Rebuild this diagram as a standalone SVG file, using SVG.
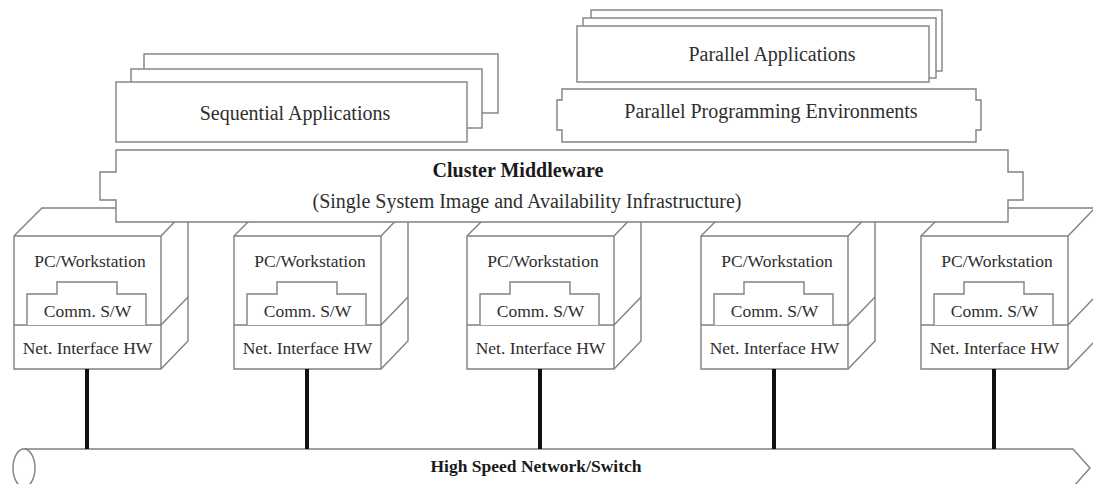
<svg xmlns="http://www.w3.org/2000/svg" xmlns:xlink="http://www.w3.org/1999/xlink" width="1093" height="484" viewBox="0 0 1093 484">
  <style>
    .box { fill: #ffffff; stroke: #808080; stroke-width: 1.4; stroke-linejoin: miter; }
    .line { fill: none; stroke: #808080; stroke-width: 1.4; }
    .lbl { font-family: "Liberation Serif", "Times New Roman", serif; fill: #2e2e2e; text-anchor: middle; }
    .big { font-size: 20px; }
    .small { font-size: 17.5px; }
    .bold { font-weight: bold; fill: #1a1a1a; }
    .wire { stroke: #111111; stroke-width: 4; fill: none; }
  </style>
  <defs>
    <!-- 3D workstation box, origin at top-left of the front face -->
    <g id="nodeShape">
      <path class="box" d="M0,0 L28,-28 L174,-28 L174,105 L147,133 L0,133 Z"/>
      <path class="line" d="M0,0 L147,0 L174,-28 M147,0 L147,133 M0,89 L147,89 L174,61"/>
      <path class="box" d="M13,89 L13,58 L43,58 L43,46 L103,46 L103,58 L132,58 L132,89"/>
    </g>
  </defs>

  <rect width="1093" height="484" fill="#ffffff"/>

  <!-- application layers -->
  <g id="sequential-apps">
    <rect class="box" x="144" y="54" width="354" height="59"/>
    <rect class="box" x="131" y="69" width="351" height="59"/>
    <rect class="box" x="116" y="82" width="351" height="60"/>
    <text class="lbl big" x="295" y="120">Sequential Applications</text>
  </g>

  <g id="parallel-apps">
    <rect class="box" x="591" y="10" width="351" height="61"/>
    <rect class="box" x="583" y="18" width="353" height="60"/>
    <rect class="box" x="577" y="26" width="352" height="56"/>
    <text class="lbl big" x="772" y="61">Parallel Applications</text>
  </g>

  <g id="parallel-env">
    <path class="box" d="M562,89 L976,89 L976,100 L981,100 L981,130 L976,130 L976,142 L562,142 L562,130 L557,130 L557,100 L562,100 Z"/>
    <text class="lbl big" x="771" y="118">Parallel Programming Environments</text>
  </g>

  <!-- cluster nodes -->
  <g id="node1" transform="translate(14,236)">
    <use xlink:href="#nodeShape"/>
    <text class="lbl small" x="76" y="31">PC/Workstation</text>
    <text class="lbl small" x="73.5" y="81">Comm. S/W</text>
    <text class="lbl small" x="73.5" y="118">Net. Interface HW</text>
  </g>
  <g id="node2" transform="translate(234,236)">
    <use xlink:href="#nodeShape"/>
    <text class="lbl small" x="76" y="31">PC/Workstation</text>
    <text class="lbl small" x="73.5" y="81">Comm. S/W</text>
    <text class="lbl small" x="73.5" y="118">Net. Interface HW</text>
  </g>
  <g id="node3" transform="translate(467,236)">
    <use xlink:href="#nodeShape"/>
    <text class="lbl small" x="76" y="31">PC/Workstation</text>
    <text class="lbl small" x="73.5" y="81">Comm. S/W</text>
    <text class="lbl small" x="73.5" y="118">Net. Interface HW</text>
  </g>
  <g id="node4" transform="translate(701,236)">
    <use xlink:href="#nodeShape"/>
    <text class="lbl small" x="76" y="31">PC/Workstation</text>
    <text class="lbl small" x="73.5" y="81">Comm. S/W</text>
    <text class="lbl small" x="73.5" y="118">Net. Interface HW</text>
  </g>
  <g id="node5" transform="translate(921,236)">
    <use xlink:href="#nodeShape"/>
    <text class="lbl small" x="76" y="31">PC/Workstation</text>
    <text class="lbl small" x="73.5" y="81">Comm. S/W</text>
    <text class="lbl small" x="73.5" y="118">Net. Interface HW</text>
  </g>

  <!-- middleware layer sits in front of the node tops -->
  <g id="middleware">
    <path class="box" d="M116,150 L1008,150 L1008,172 L1023,172 L1023,200 L1008,200 L1008,222 L116,222 L116,200 L100,200 L100,172 L116,172 Z"/>
    <text class="lbl big bold" x="518" y="177">Cluster Middleware</text>
    <text class="lbl big" x="527" y="208">(Single System Image and Availability Infrastructure)</text>
  </g>

  <!-- network bus -->
  <g id="network">
    <path class="box" d="M24,449 L1073,449 L1090,468 L1073,487 L24,487 Z"/>
    <ellipse class="box" cx="24" cy="468" rx="11" ry="19"/>
    <text class="lbl small bold" x="536" y="472">High Speed Network/Switch</text>
  </g>

  <!-- links from each node to the network -->
  <g id="connectors">
    <line class="wire" x1="87" y1="369" x2="87" y2="449"/>
    <line class="wire" x1="307" y1="369" x2="307" y2="449"/>
    <line class="wire" x1="540" y1="369" x2="540" y2="449"/>
    <line class="wire" x1="774" y1="369" x2="774" y2="449"/>
    <line class="wire" x1="994" y1="369" x2="994" y2="449"/>
  </g>
</svg>
